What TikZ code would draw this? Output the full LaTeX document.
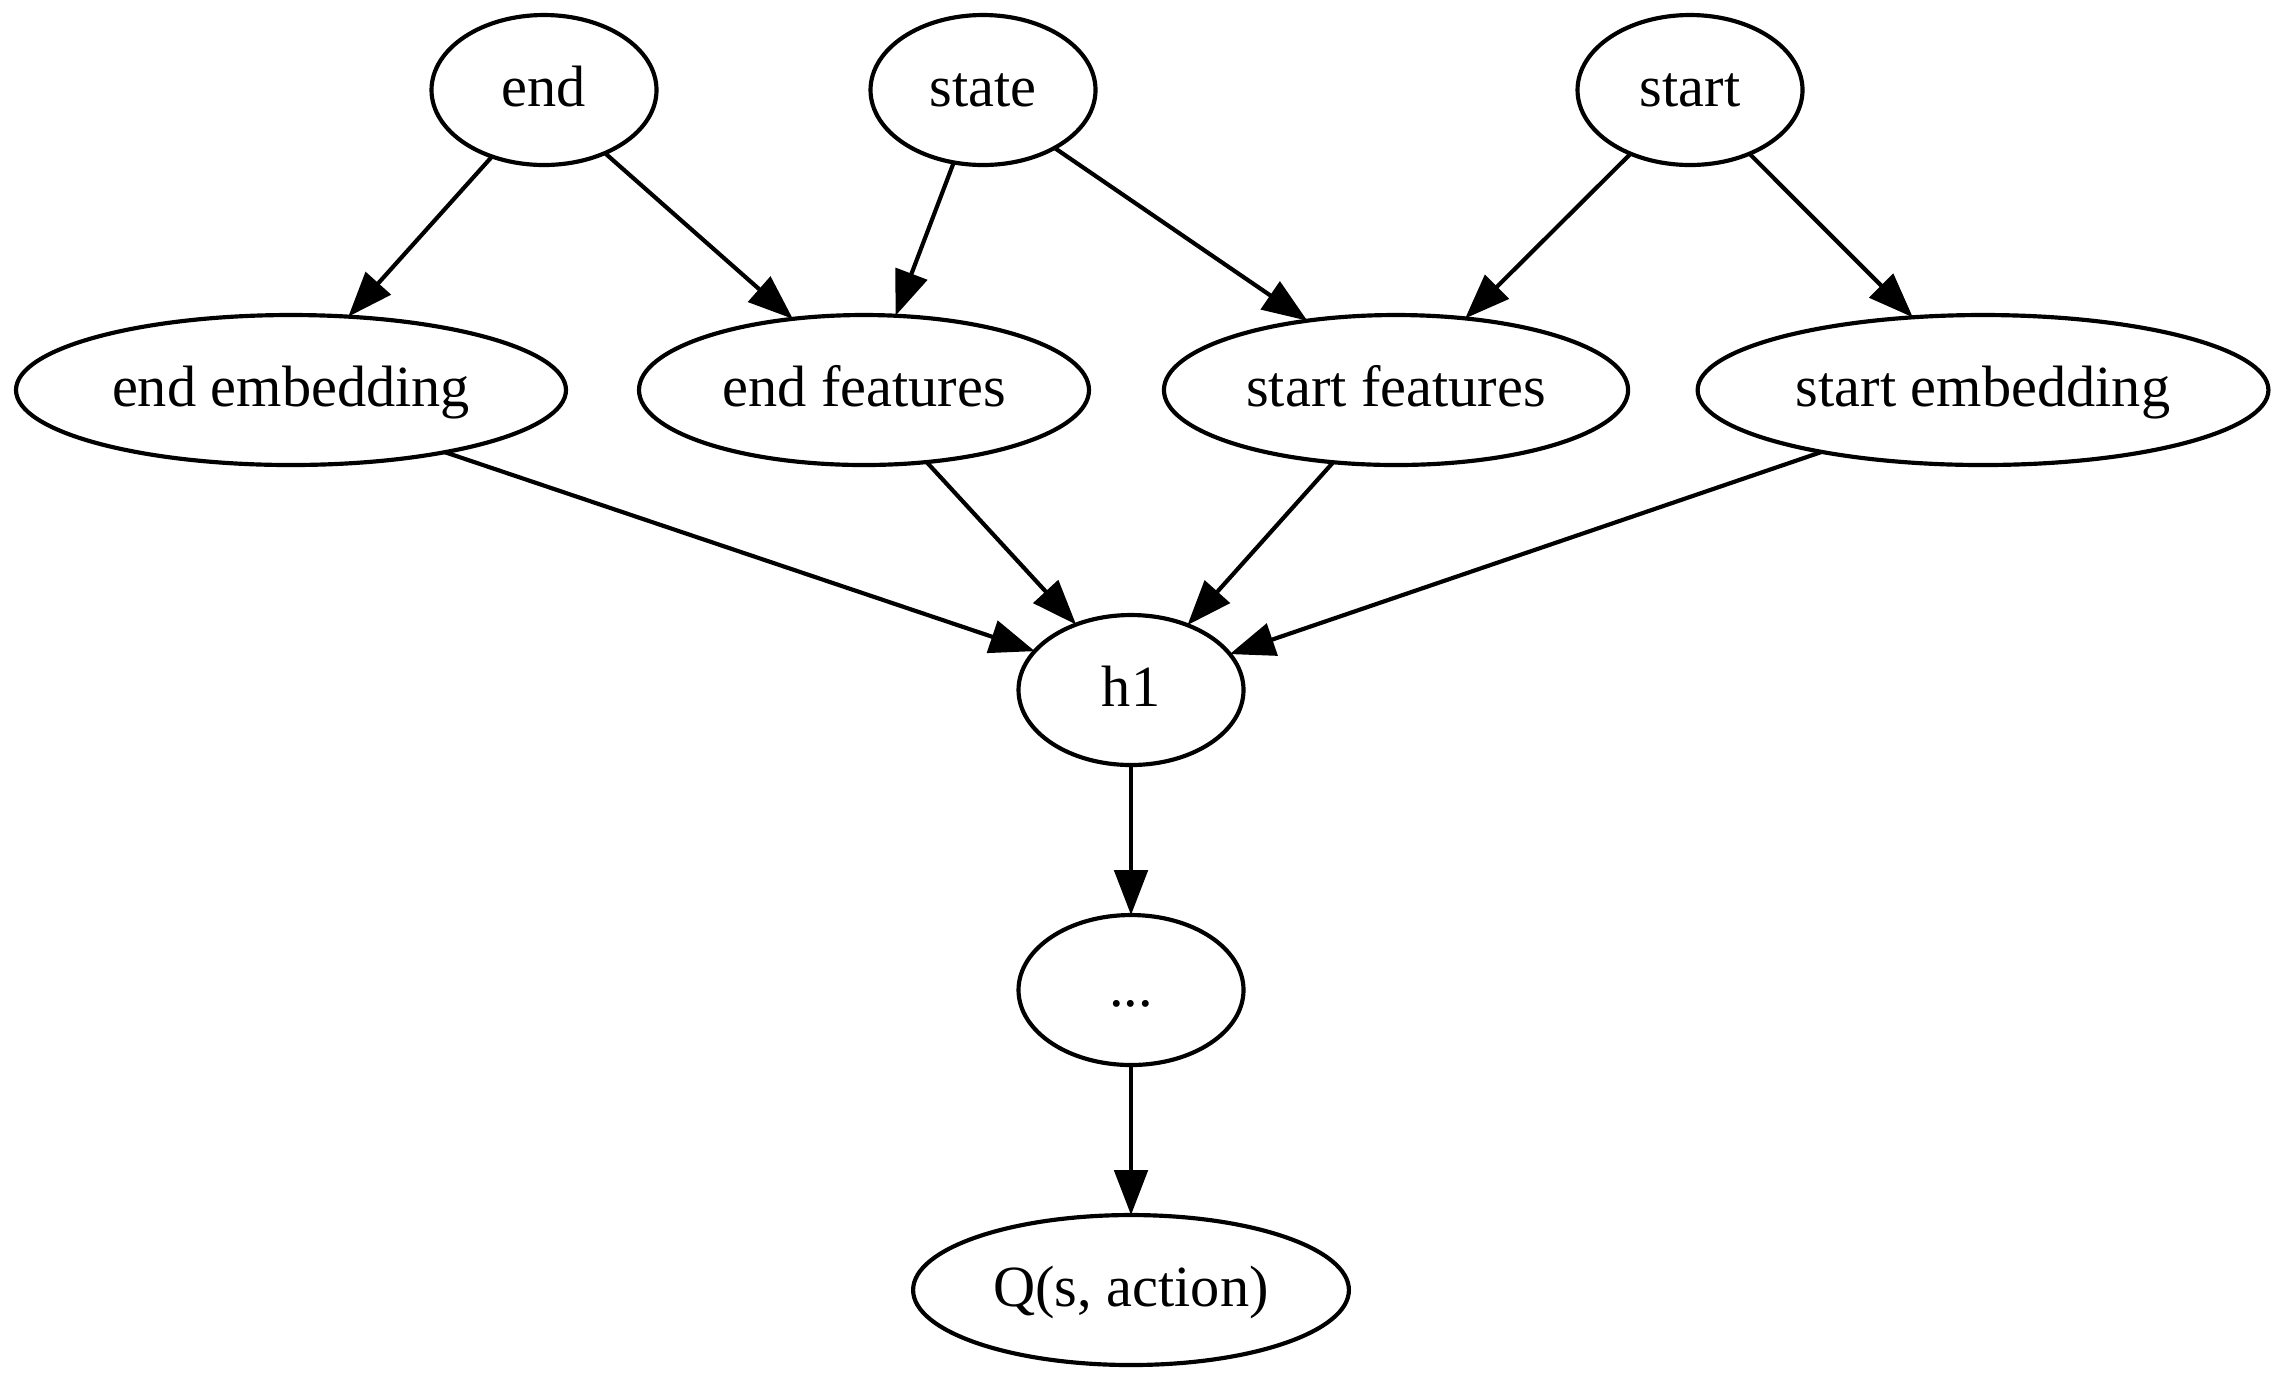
\documentclass[tikz,border=0pt]{standalone}
\usepackage{fontspec}
\setmainfont{Liberation Serif}
\usetikzlibrary{arrows.meta,shapes.geometric}
\begin{document}
\begin{tikzpicture}[x=0.24pt,y=-0.24pt,
  nd/.style={draw, ellipse, line width=1pt, inner sep=0pt, outer sep=0pt,
    minimum height=36pt, font=\fontsize{14pt}{16pt}\selectfont,
    text height=11pt, text depth=3pt},
  conn/.style={line width=1pt, -{Triangle[length=10.8pt,width=8pt]}}]
\useasboundingbox (0,0) rectangle (2284,1383);
% top row
\node[nd, minimum width=54pt] (end) at (544,90) {end};
\node[nd, minimum width=54pt] (state) at (983,90) {state};
\node[nd, minimum width=54pt] (start) at (1690,90) {start};
% second row
\node[nd, minimum width=132pt] (endemb) at (291,390) {end embedding};
\node[nd, minimum width=108pt] (endfeat) at (864,390) {end features};
\node[nd, minimum width=111.4pt] (startfeat) at (1396,390) {start features};
\node[nd, minimum width=137pt] (startemb) at (1983,390) {start embedding};
% lower chain
\node[nd, minimum width=54pt] (h1) at (1131,690) {h1};
\node[nd, minimum width=54pt] (dots) at (1131,990) {...};
\node[nd, minimum width=104.6pt] (q) at (1131,1290) {Q(s, action)};
% edges
\draw[conn] (end.232.3) -- (endemb.52.1);
\draw[conn] (end.314.6) -- (endfeat.135.8);
\draw[conn] (state.248.7) -- (endfeat.67.5);
\draw[conn] (state.321.7) -- (startfeat.142.7);
\draw[conn] (start.227.6) -- (startfeat.46.2);
\draw[conn] (start.313.6) -- (startemb.134.1);
\draw[conn] (endemb.338.9) -- (h1.158.4);
\draw[conn] (endfeat.311.2) -- (h1.130.7);
\draw[conn] (startfeat.229.7) -- (h1.49.3);
\draw[conn] (startemb.201) -- (h1.20.9);
\draw[conn] (h1.south) -- (dots.north);
\draw[conn] (dots.south) -- (q.north);
\end{tikzpicture}
\end{document}
